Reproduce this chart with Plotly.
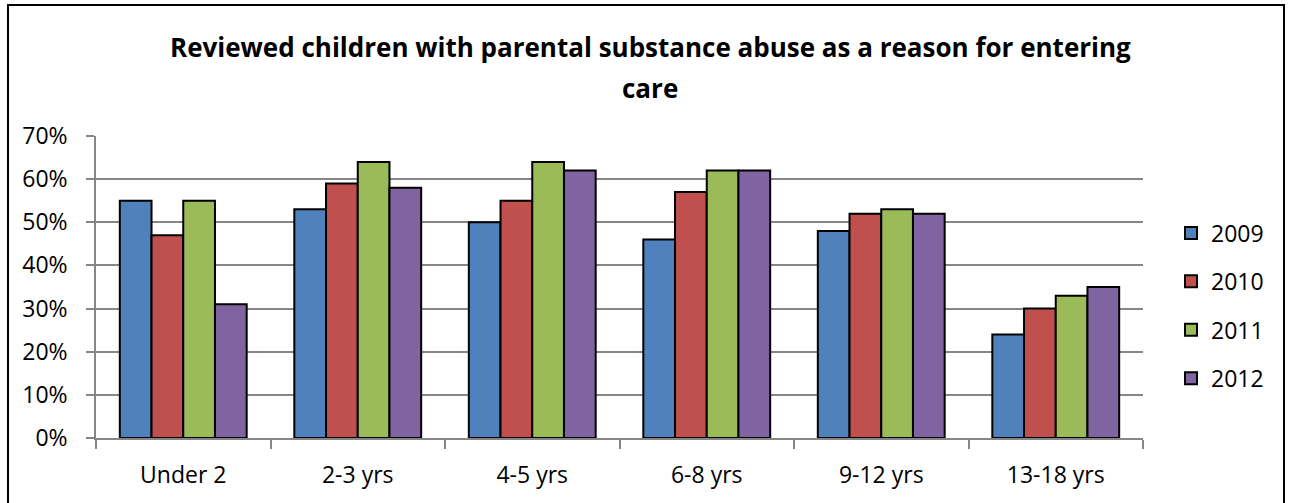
import plotly.graph_objects as go

# Age groups and share of reviewed children per year (percent)
age_groups = ["Under 2", "2-3 yrs", "4-5 yrs", "6-8 yrs", "9-12 yrs", "13-18 yrs"]
years = ["2009", "2010", "2011", "2012"]
pct_2009 = [55, 53, 50, 46, 48, 24]
pct_2010 = [47, 59, 55, 57, 52, 30]
pct_2011 = [55, 64, 64, 62, 53, 33]
pct_2012 = [31, 58, 62, 62, 52, 35]
series = [pct_2009, pct_2010, pct_2011, pct_2012]
colors = ["#4F81BD", "#C0504D", "#9BBB59", "#8064A2"]

y_ticks = [0, 10, 20, 30, 40, 50, 60, 70]
y_tick_text = [f"{v}%" for v in y_ticks]

W, H = 1289, 503
ML, MR, MT, MB = 96, 146, 136, 65
plot_w = W - ML - MR
plot_h = H - MT - MB


def px_x(x):
    return (x - ML) / plot_w


def px_y(y):
    return (H - MB - y) / plot_h


FONT = "Open Sans"
GRID = "#868686"

fig = go.Figure()
for i, (yr, vals) in enumerate(zip(years, series)):
    fig.add_trace(go.Bar(
        x=age_groups, y=vals, name=yr,
        marker=dict(color=colors[i], line=dict(color="black", width=2)),
        legendgroup=yr,
    ))

fig.update_layout(
    width=W, height=H,
    margin=dict(l=ML, r=MR, t=MT, b=MB),
    paper_bgcolor="white", plot_bgcolor="white",
    barmode="group", bargap=0.273, bargroupgap=0,
    font=dict(family=FONT, size=23, color="black"),
    showlegend=True,
    legend=dict(
        x=px_x(1171), xanchor="left",
        y=px_y(306), yanchor="middle",
        font=dict(family=FONT, size=23, color="black"),
        tracegroupgap=15.5, bgcolor="rgba(0,0,0,0)",
    ),
    xaxis=dict(
        showgrid=False, showline=True, linecolor=GRID, linewidth=1.5,
        ticks="outside", tickson="boundaries", ticklen=9, tickcolor=GRID,
        tickwidth=1.5, ticklabelstandoff=16,
        tickfont=dict(family=FONT, size=23, color="black"),
        fixedrange=True,
    ),
    yaxis=dict(
        range=[0, 70], tickvals=y_ticks, ticktext=y_tick_text,
        showgrid=True, gridcolor=GRID, gridwidth=1.5,
        showline=True, linecolor=GRID, linewidth=1.5,
        ticks="outside", ticklen=8, tickcolor=GRID, tickwidth=1.5,
        ticklabelstandoff=14, zeroline=False,
        tickfont=dict(family=FONT, size=23, color="black"),
        fixedrange=True,
    ),
)

# Title, two lines
fig.add_annotation(
    text="<b>Reviewed children with parental substance abuse as a reason for entering</b>",
    xref="paper", yref="paper", x=px_x(650), y=px_y(47),
    xanchor="center", yanchor="middle", showarrow=False,
    font=dict(family=FONT, size=26, color="black"),
)
fig.add_annotation(
    text="<b>care</b>",
    xref="paper", yref="paper", x=px_x(650), y=px_y(88),
    xanchor="center", yanchor="middle", showarrow=False,
    font=dict(family=FONT, size=26, color="black"),
)

# Chart frame
fig.add_shape(
    type="rect", xref="paper", yref="paper",
    x0=px_x(8), x1=px_x(1284), y0=px_y(506), y1=px_y(5),
    line=dict(color="black", width=2), fillcolor="rgba(0,0,0,0)", layer="below",
)

fig.write_html("out.html")
